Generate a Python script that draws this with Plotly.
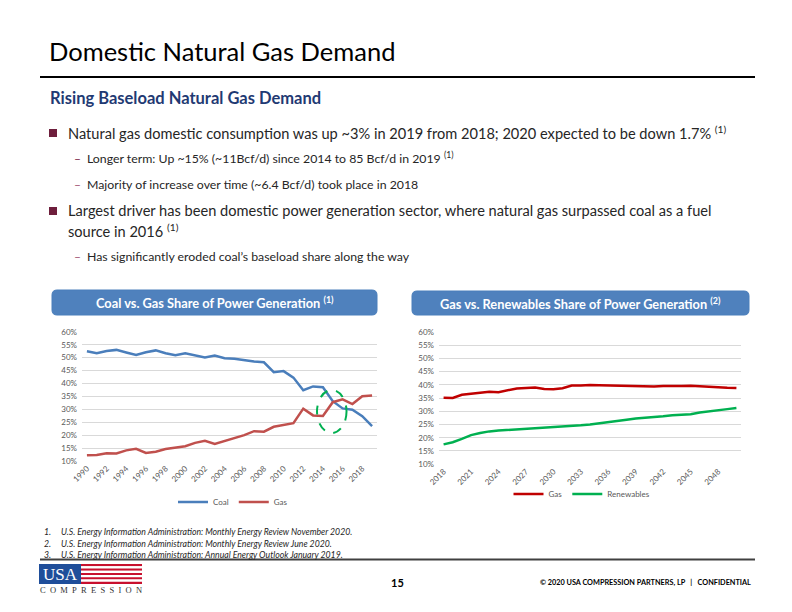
import plotly.graph_objects as go

# ---------------- data ----------------
coal_years = list(range(1990, 2020))
coal_share = [52.5, 51.7, 52.6, 53.0, 52.0, 51.0, 52.1, 52.8, 51.7, 50.9,
              51.7, 50.9, 50.1, 50.8, 49.8, 49.6, 49.0, 48.5, 48.2, 44.4,
              44.8, 42.3, 37.4, 38.9, 38.6, 33.2, 30.4, 29.9, 27.4, 23.6]
gas_share_hist = [12.3, 12.4, 13.1, 13.0, 14.2, 14.8, 13.2, 13.7, 14.7, 15.2,
                  15.8, 17.1, 17.9, 16.7, 17.9, 18.8, 20.1, 21.6, 21.4, 23.3,
                  23.9, 24.7, 30.3, 27.7, 27.5, 32.8, 33.9, 32.1, 35.1, 35.4]
left_tick_years = list(range(1990, 2019, 2))

proj_years = list(range(2018, 2051))
gas_share_proj = [35.1, 35.0, 36.2, 36.6, 37.2, 37.4, 37.2, 38.0, 38.6, 38.8,
                  39.0, 38.4, 38.3, 38.7, 39.7, 39.7, 39.9, 39.8, 39.7, 39.7,
                  39.5, 39.3, 39.4, 39.3, 39.5, 39.4, 39.5, 39.6, 39.4, 39.1,
                  39.1, 38.9, 38.8]
renew_share_proj = [17.5, 18.3, 19.6, 21.0, 21.8, 22.4, 22.7, 22.9, 23.1, 23.3,
                    23.5, 23.8, 24.1, 24.3, 24.5, 24.7, 25.0, 25.4, 25.9, 26.3,
                    26.8, 27.3, 27.5, 27.9, 28.1, 28.5, 28.7, 28.9, 29.5, 30.0,
                    30.3, 30.8, 31.2]
right_tick_years = list(range(2018, 2049, 3))
pct_ticks = list(range(10, 61, 5))
pct_labels = [f"{v}%" for v in pct_ticks]

W, H = 792, 612
OFF = 8  # page body margin of the browser
def px(x):
    return (x - OFF) / W
def py(y):
    return 1 - (y - OFF) / H

FONT = "Lato"
TICK_COLOR = "#595959"
GRID = "#D9D9D9"

fig = go.Figure()

fig.add_trace(go.Scatter(x=coal_years, y=coal_share, name="Coal", mode="lines",
                         line=dict(color="#4A7EBB", width=2.5),
                         xaxis="x", yaxis="y", legend="legend"))
fig.add_trace(go.Scatter(x=coal_years, y=gas_share_hist, name="Gas", mode="lines",
                         line=dict(color="#C0504D", width=2.5),
                         xaxis="x", yaxis="y", legend="legend"))
fig.add_trace(go.Scatter(x=proj_years, y=gas_share_proj, name="Gas", mode="lines",
                         line=dict(color="#C00000", width=2.5),
                         xaxis="x2", yaxis="y2", legend="legend2"))
fig.add_trace(go.Scatter(x=proj_years, y=renew_share_proj, name="Renewables", mode="lines",
                         line=dict(color="#00B050", width=2.5),
                         xaxis="x2", yaxis="y2", legend="legend2"))

axis_common = dict(showline=False, zeroline=False, ticks="", automargin=False,
                   tickfont=dict(family=FONT, size=8, color=TICK_COLOR))

fig.update_layout(
    width=W, height=H, autosize=False,
    margin=dict(l=0, r=0, t=0, b=0, pad=0, autoexpand=False),
    paper_bgcolor="white", plot_bgcolor="white",
    font=dict(family=FONT, color="#262626"),
    xaxis=dict(domain=[px(82), px(377)], range=[1989.5, 2019.5],
               tickvals=left_tick_years, ticktext=[str(v) for v in left_tick_years],
               tickangle=-45, showgrid=False, anchor="y", **axis_common),
    yaxis=dict(domain=[py(461.5), py(331.5)], range=[9.9, 60.1],
               tickvals=pct_ticks, ticktext=pct_labels, showgrid=True,
               gridcolor=GRID, gridwidth=1, anchor="x", ticklabelstandoff=4,
               **axis_common),
    xaxis2=dict(domain=[px(439), px(741)], range=[2017.5, 2050.5],
                tickvals=right_tick_years, ticktext=[str(v) for v in right_tick_years],
                tickangle=-45, showgrid=False, anchor="y2", **axis_common),
    yaxis2=dict(domain=[py(464.5), py(331.5)], range=[9.9, 60.1],
                tickvals=pct_ticks, ticktext=pct_labels, showgrid=True,
                gridcolor=GRID, gridwidth=1, anchor="x2", ticklabelstandoff=4,
                **axis_common),
    legend=dict(x=px(233), y=py(502), xanchor="center", yanchor="middle",
                orientation="h", font=dict(family=FONT, size=8, color=TICK_COLOR),
                bgcolor="rgba(0,0,0,0)", itemwidth=30),
    legend2=dict(x=px(582), y=py(494), xanchor="center", yanchor="middle",
                 orientation="h", font=dict(family=FONT, size=8, color=TICK_COLOR),
                 bgcolor="rgba(0,0,0,0)", itemwidth=30),
    showlegend=True,
)

shapes = []
# header line and footer line
shapes.append(dict(type="line", xref="paper", yref="paper", x0=px(40), x1=px(755),
                   y0=py(77), y1=py(77), line=dict(color="#000000", width=2)))
shapes.append(dict(type="line", xref="paper", yref="paper", x0=px(40), x1=px(755),
                   y0=py(559.5), y1=py(559.5), line=dict(color="#404040", width=2)))

def rounded_rect(x0, y0, x1, y1, r):
    X0, X1 = px(x0), px(x1)
    Y0, Y1 = py(y0), py(y1)  # Y0 top, Y1 bottom
    rx, ry = r / W, r / H
    return (f"M {X0+rx},{Y0} L {X1-rx},{Y0} Q {X1},{Y0} {X1},{Y0-ry} "
            f"L {X1},{Y1+ry} Q {X1},{Y1} {X1-rx},{Y1} L {X0+rx},{Y1} "
            f"Q {X0},{Y1} {X0},{Y1+ry} L {X0},{Y0-ry} Q {X0},{Y0} {X0+rx},{Y0} Z")

for (a, b, c, d) in [(52, 290, 377, 315), (412, 291, 749, 315)]:
    shapes.append(dict(type="path", xref="paper", yref="paper",
                       path=rounded_rect(a, b, c, d, 5),
                       fillcolor="#4F81BD", line=dict(color="#4A7EBB", width=1)))

# green dashed ellipse highlighting crossover
shapes.append(dict(type="circle", xref="x", yref="y", x0=2013.4, x1=2016.4,
                   y0=20.9, y1=37.5, line=dict(color="#00B050", width=2, dash="dash")))

# bullet squares
for yc in [133, 211]:
    shapes.append(dict(type="rect", xref="paper", yref="paper",
                       x0=px(49), x1=px(57), y0=py(yc + 4), y1=py(yc - 4),
                       fillcolor="#6E1E3C", line=dict(width=0)))

# logo
shapes.append(dict(type="rect", xref="paper", yref="paper", x0=px(39), x1=px(81),
                   y0=py(584), y1=py(564), fillcolor="#1F4E9A", line=dict(width=0)))
n_str = 9
sh = 20 / n_str
for i in range(n_str):
    col = "#C8102E" if i % 2 == 0 else "#FFFFFF"
    shapes.append(dict(type="rect", xref="paper", yref="paper", x0=px(81), x1=px(142),
                       y0=py(564 + (i + 1) * sh), y1=py(564 + i * sh),
                       fillcolor=col, line=dict(width=0)))

fig.update_layout(shapes=shapes)

ann = []
def text(x, y, s, size, color="#262626", bold=False, italic=False, anchor="left",
         family=FONT):
    if bold:
        s = f"<b>{s}</b>"
    if italic:
        s = f"<i>{s}</i>"
    ann.append(dict(x=px(x), y=py(y), xref="paper", yref="paper", text=s,
                    showarrow=False, xanchor=anchor, yanchor="middle",
                    font=dict(family=family, size=size, color=color)))

text(47, 51, "Domestic Natural Gas Demand", 25.5, color="#000000")
text(48, 98, "Rising Baseload Natural Gas Demand", 16.5, color="#1F3A73", bold=True)

text(66, 133, "Natural gas domestic consumption was up ~3% in 2019 from 2018; 2020 expected to be down 1.7% <sup>(1)</sup>", 14.6)
text(72, 158, "–", 12, color="#7A2048")
text(85, 158, "Longer term: Up ~15% (~11Bcf/d) since 2014 to 85 Bcf/d in 2019 <sup>(1)</sup>", 12.3)
text(72, 184, "–", 12, color="#A05070")
text(85, 184, "Majority of increase over time (~6.4 Bcf/d) took place in 2018", 12.3)
text(66, 211, "Largest driver has been domestic power generation sector, where natural gas surpassed coal as a fuel", 14.6)
text(66, 230, "source in 2016 <sup>(1)</sup>", 14.6)
text(72, 256, "–", 12, color="#A05070")
text(85, 256, "Has significantly eroded coal’s baseload share along the way", 12.3)

# chart banner titles
text(214.5, 302.5, "Coal vs. Gas Share of Power Generation <sup>(1)</sup>", 12.8, color="#FFFFFF",
     bold=True, anchor="center")
text(580.5, 303, "Gas vs. Renewables Share of Power Generation <sup>(2)</sup>", 12.8, color="#FFFFFF",
     bold=True, anchor="center")

# footnotes
notes = ["U.S. Energy Information Administration: Monthly Energy Review November 2020.",
         "U.S. Energy Information Administration: Monthly Energy Review June 2020.",
         "U.S. Energy Information Administration: Annual Energy Outlook January 2019."]
for i, (yy, n) in enumerate(zip([531, 543, 554], notes)):
    text(42, yy, f"{i+1}.", 8.7, color="#262626", italic=True)
    text(59, yy, n, 8.7, color="#262626", italic=True)

# footer
text(397, 582, "15", 11, color="#000000", bold=True, anchor="center")
text(753, 582, "© 2020 USA COMPRESSION PARTNERS, LP&nbsp;&nbsp;&nbsp;|&nbsp;&nbsp;&nbsp;CONFIDENTIAL", 7.3,
     color="#000000", bold=True, anchor="right")

# logo text
text(60, 574, "USA", 17, color="#FFFFFF", anchor="center", family="Liberation Serif")
text(90.5, 590, "&nbsp;".join("COMPRESSION") if False else
     "C&nbsp; O&nbsp; M&nbsp; P&nbsp; R&nbsp; E&nbsp; S&nbsp; S&nbsp; I&nbsp; O&nbsp; N", 8.5,
     color="#333333", anchor="center", family="Liberation Serif")

fig.update_layout(annotations=ann)

fig.write_html("out.html")
